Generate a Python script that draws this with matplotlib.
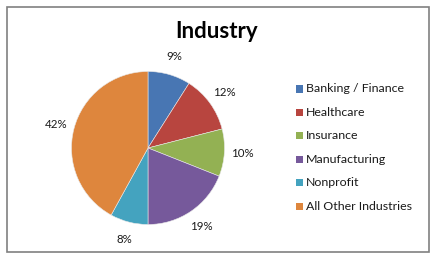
import matplotlib
matplotlib.use("Agg")
import matplotlib.pyplot as plt
from matplotlib.patches import Rectangle

categories = ["Banking / Finance", "Healthcare", "Insurance", "Manufacturing",
              "Nonprofit", "All Other Industries"]
values = [9, 12, 10, 19, 8, 42]
colors = ["#4876B3", "#B8453F", "#93B153", "#76599B", "#44A3BF", "#DE863D"]
title = "Industry"

plt.rcParams['font.family'] = ['Lato', 'DejaVu Sans']

W, H = 433, 258
fig = plt.figure(figsize=(W / 100, H / 100), dpi=100)
fig.patch.set_facecolor("white")

# outer frame
fig.patches.append(Rectangle((7 / W, 1 - 251.5 / H), (428.5 - 7) / W, (251.5 - 7) / H,
                             transform=fig.transFigure, fill=False,
                             edgecolor="#808080", linewidth=1.2))

cx, cy, r = 148, H - 148, 76.5
half = 1.3 * r
ax = fig.add_axes([(cx - half) / W, (cy - half) / H, 2 * half / W, 2 * half / H])
wedges, texts, autotexts = ax.pie(values, colors=colors, startangle=90, counterclock=False,
                                  autopct=lambda p: f"{p:.0f}%", pctdistance=1.24,
                                  wedgeprops=dict(edgecolor="#E8E8E8", linewidth=0.4),
                                  textprops=dict(fontsize=8.3, color="#1A1A1A"))
ax.set_xlim(-1.3, 1.3)
ax.set_ylim(-1.3, 1.3)
ax.set_aspect("equal")
ax.axis("off")

fig.text(217 / W, 1 - 32 / H, title, ha="center", va="center",
         fontsize=16, fontweight="bold", color="black")

# legend
y0, dy = 89, 23.4
for i, (lab, col) in enumerate(zip(categories, colors)):
    y = y0 + i * dy
    fig.patches.append(Rectangle((296 / W, 1 - (y + 3.5) / H), 7 / W, 7 / H,
                                 transform=fig.transFigure, facecolor=col,
                                 edgecolor="none"))
    fig.text(306 / W, 1 - y / H, lab, ha="left", va="center",
             fontsize=8.9, color="#1A1A1A")

fig.savefig("out.png", dpi=100)
